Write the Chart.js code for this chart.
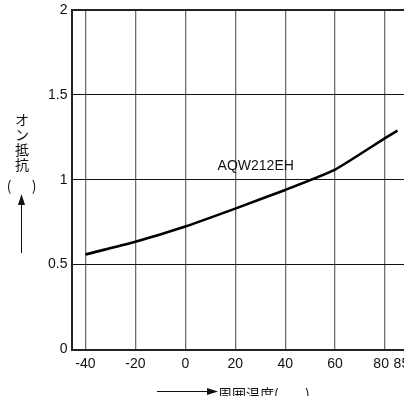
<!DOCTYPE html>
<html>
<head>
<meta charset="utf-8">
<script src="https://cdn.jsdelivr.net/npm/chart.js@4/dist/chart.umd.min.js"></script>
<style>
  html, body { margin: 0; padding: 0; background: #fff; overflow: hidden; }
  #box { width: 404px; height: 396px; }
</style>
</head>
<body>
<div id="box"><canvas id="c" width="404" height="396"></canvas></div>
<script>
// data
const temps = [-40, -20, 0, 20, 40, 60, 80, 85];
const onResistance = [0.56, 0.635, 0.725, 0.83, 0.94, 1.06, 1.245, 1.29];
const xTickValues = [-40, -20, 0, 20, 40, 60, 80, 85];
const seriesName = "AQW212EH";
const yTitleChars = ["オ", "ン", "抵", "抗"];
const xTitle = "周囲温度(";

const latin = "'Liberation Sans', Arial, sans-serif";
const cjk = "'Noto Sans CJK JP', sans-serif";

/* ---- axis titles, arrows, series label ---- */
const extras = {
  id: "extras",
  afterDraw(chart) {
    const c = chart.ctx;
    const xs = chart.scales.x, ys = chart.scales.y;
    c.save();
    c.fillStyle = "#111";
    c.strokeStyle = "#111";

    // series label on the curve
    c.font = "14px " + latin;
    c.textAlign = "center";
    c.textBaseline = "middle";
    c.fillText(seriesName, xs.getPixelForValue(28.2), ys.getPixelForValue(1.083));

    // vertical y title
    c.font = "14px " + cjk;
    yTitleChars.forEach((ch, i) => c.fillText(ch, 22, 120 + i * 15));
    c.fillText("(", 9, 186);
    c.fillText(")", 34, 186);

    // up arrow
    c.lineWidth = 1;
    c.beginPath();
    c.moveTo(21.5, 253);
    c.lineTo(21.5, 203);
    c.stroke();
    c.beginPath();
    c.moveTo(21.5, 194);
    c.lineTo(18, 205);
    c.lineTo(25, 205);
    c.closePath();
    c.fill();

    // right arrow + x title
    c.beginPath();
    c.moveTo(157, 391.5);
    c.lineTo(208, 391.5);
    c.stroke();
    c.beginPath();
    c.moveTo(218, 391.5);
    c.lineTo(207, 388);
    c.lineTo(207, 395);
    c.closePath();
    c.fill();
    c.textAlign = "left";
    c.fillText(xTitle, 218, 394);
    c.fillText(")", 305, 394);
    c.restore();
  }
};

new Chart(document.getElementById("c"), {
  type: "line",
  data: {
    datasets: [{
      data: temps.map((t, i) => ({ x: t, y: onResistance[i] })),
      borderColor: "#000",
      borderWidth: 2.6,
      pointRadius: 0,
      tension: 0.15,
      fill: false
    }]
  },
  options: {
    responsive: false,
    animation: false,
    layout: { padding: { top: 10, right: 0, left: 0, bottom: 0 } },
    plugins: { legend: { display: false }, tooltip: { enabled: false } },
    scales: {
      x: {
        type: "linear",
        min: -45.6,
        max: 87.6,
        afterBuildTicks: s => { s.ticks = xTickValues.map(v => ({ value: v })); },
        afterFit: s => { s.height = 46.5; s.paddingLeft = 0; s.paddingRight = 0; },
        grid: {
          drawTicks: false,
          color: ctx => ctx.tick && ctx.tick.value === 85 ? "rgba(0,0,0,0)" : "#6e6e6e",
          lineWidth: 1.3
        },
        border: { display: true, color: "#222", width: 2 },
        ticks: {
          autoSkip: false,
          maxRotation: 0,
          minRotation: 0,
          padding: 6,
          color: "#111",
          font: { family: latin, size: 14 },
          // keep a small gap between "80" and "85"
          callback: v => v === 80 ? "80  " : v === 85 ? "  85" : String(v)
        }
      },
      y: {
        min: 0,
        max: 2,
        afterFit: s => { s.width = 71.5; s.paddingTop = 0; s.paddingBottom = 0; },
        grid: {
          drawTicks: false,
          color: ctx => ctx.tick && ctx.tick.value === 2 ? "#222" : "#111",
          lineWidth: ctx => ctx.tick && ctx.tick.value === 2 ? 2 : 1
        },
        border: { display: true, color: "#222", width: 2 },
        ticks: {
          stepSize: 0.5,
          padding: 4,
          color: "#111",
          font: { family: latin, size: 14 },
          callback: v => String(v)
        }
      }
    }
  },
  plugins: [extras]
});
</script>
</body>
</html>
